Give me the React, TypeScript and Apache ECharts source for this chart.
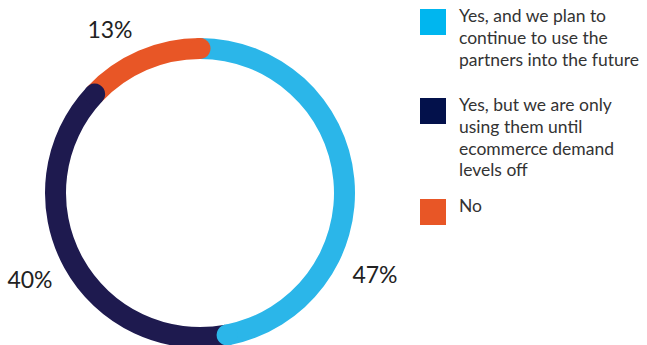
import React, { useEffect, useRef } from "react";
import * as echarts from "echarts";

const categories = [
  "Yes, and we plan to\ncontinue to use the\npartners into the future",
  "Yes, but we are only\nusing them until\necommerce demand\nlevels off",
  "No",
];
const values = [47, 40, 13];
const ringColors = ["#2BB6E9", "#1E1A4F", "#E85626"];
const legendColors = ["#00B6EF", "#03114B", "#E85626"];

export default function App() {
  const ref = useRef<HTMLDivElement>(null);
  useEffect(() => {
    if (!ref.current) return;
    const chart = echarts.init(ref.current, undefined, { renderer: "svg" });
    const cx = 200, cy = 193, rOut = 155, rIn = 134;
    const total = values.reduce((a, b) => a + b, 0);
    let cum = 0;
    const caps = values.map((v, i) => {
      cum += v;
      return { value: [(rOut + rIn) / 2, (cum / total) * 100], itemStyle: { color: ringColors[i], opacity: 1 } };
    });
    const labelPos = [
      [375, 274],
      [30, 279],
      [110, 29],
    ];
    const legendTop = [9, 98, 199];
    const graphic: any[] = [];
    values.forEach((v, i) => {
      graphic.push({
        type: "text",
        x: labelPos[i][0],
        y: labelPos[i][1],
        style: {
          text: `${v}%`,
          fontFamily: "Lato",
          fontSize: 23,
          fill: "#222",
          align: "center",
          verticalAlign: "middle",
        },
      });
      graphic.push({
        type: "rect",
        shape: { x: 420, y: legendTop[i], width: 26, height: 26 },
        style: { fill: legendColors[i] },
      });
      graphic.push({
        type: "text",
        x: 459,
        y: legendTop[i] - 4,
        style: {
          text: categories[i],
          fontFamily: "Lato",
          fontSize: 17.5,
          lineHeight: 21.7,
          fill: "#333",
          align: "left",
          verticalAlign: "top",
        },
      });
    });
    chart.setOption({
      animation: false,
      polar: { center: [cx, cy], radius: [0, rOut] },
      angleAxis: { type: "value", min: 0, max: 100, startAngle: 90, clockwise: true, show: false },
      radiusAxis: { type: "value", min: 0, max: rOut, show: false },
      series: [
        {
          type: "pie",
          center: [cx, cy],
          radius: [rIn, rOut],
          startAngle: 90,
          clockwise: true,
          silent: true,
          label: { show: false },
          labelLine: { show: false },
          itemStyle: { borderWidth: 0 },
          data: values.map((v, i) => ({ name: categories[i], value: v, itemStyle: { color: ringColors[i] } })),
          z: 1,
        },
        {
          type: "scatter",
          coordinateSystem: "polar",
          symbol: "circle",
          symbolSize: rOut - rIn,
          silent: true,
          itemStyle: { opacity: 1 },
          data: caps,
          z: 2,
        },
      ],
      graphic,
    });
    return () => chart.dispose();
  }, []);
  return (
    <div
      ref={ref}
      style={{ position: "absolute", left: 0, top: 0, width: 647, height: 345 }}
    />
  );
}
